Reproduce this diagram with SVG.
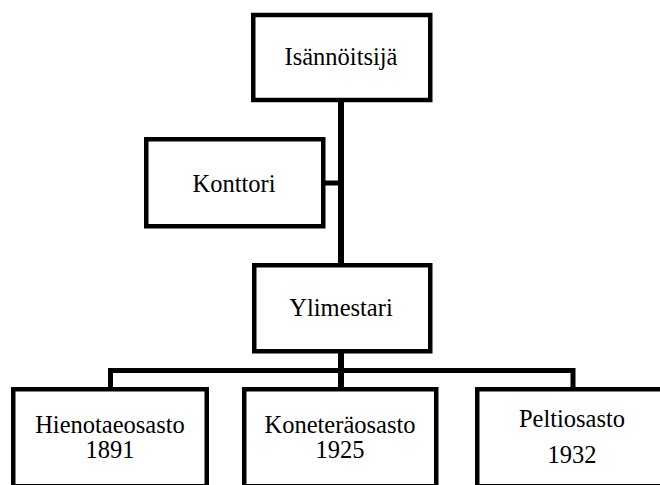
<svg xmlns="http://www.w3.org/2000/svg" width="660" height="485" viewBox="0 0 660 485">
<style>
.box{fill:#fff;stroke:#000;stroke-width:4.5;stroke-linejoin:miter}
.t{font-family:'Liberation Serif','DejaVu Serif',serif;font-size:24.5px;fill:#000;text-anchor:middle}
.c{stroke:#000;fill:none;stroke-linecap:butt;stroke-linejoin:miter}
</style>
<rect width="660" height="485" fill="#fff"/>
<g id="connectors">
<line class="c" x1="341" y1="100" x2="341" y2="389" stroke-width="6"/>
<line class="c" x1="323" y1="183" x2="341" y2="183" stroke-width="5"/>
<polyline class="c" points="110.5,389 110.5,370.5 573,370.5 573,389" stroke-width="5"/>
</g>
<g id="isannoitsija">
<rect class="box" x="253.25" y="15" width="177" height="85"/>
<text class="t" x="341" y="65" font-family="Liberation Serif, DejaVu Serif, serif">Isännöitsijä</text>
</g>
<g id="konttori">
<rect class="box" x="146.25" y="139.25" width="177" height="87"/>
<text class="t" x="234" y="192" font-family="Liberation Serif, DejaVu Serif, serif">Konttori</text>
</g>
<g id="ylimestari">
<rect class="box" x="254.25" y="265.25" width="176" height="86"/>
<text class="t" x="341" y="316" font-family="Liberation Serif, DejaVu Serif, serif">Ylimestari</text>
</g>
<g id="hienotaeosasto">
<rect class="box" x="13.25" y="389.25" width="193.5" height="97"/>
<text class="t" x="110" y="433" font-family="Liberation Serif, DejaVu Serif, serif">Hienotaeosasto</text>
<text class="t" x="110" y="458" font-family="Liberation Serif, DejaVu Serif, serif">1891</text>
</g>
<g id="koneteraosasto">
<rect class="box" x="244.25" y="389.25" width="192" height="97"/>
<text class="t" x="340" y="433" font-family="Liberation Serif, DejaVu Serif, serif">Koneteräosasto</text>
<text class="t" x="340" y="458" font-family="Liberation Serif, DejaVu Serif, serif">1925</text>
</g>
<g id="peltiosasto">
<rect class="box" x="477.25" y="389.25" width="192" height="97"/>
<text class="t" x="572" y="427" font-family="Liberation Serif, DejaVu Serif, serif">Peltiosasto</text>
<text class="t" x="572" y="463" font-family="Liberation Serif, DejaVu Serif, serif">1932</text>
</g>
</svg>
